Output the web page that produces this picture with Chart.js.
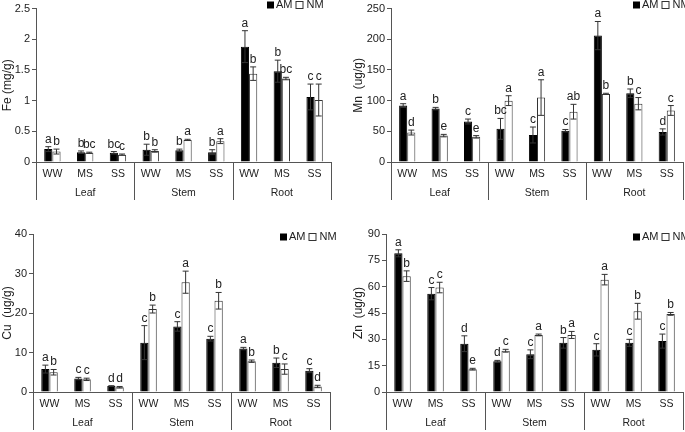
<!DOCTYPE html>
<html>
<head>
<meta charset="utf-8">
<script src="https://cdn.jsdelivr.net/npm/chart.js@4"></script>
<style>
  body { margin: 0; background: #fff; width: 685px; height: 432px; overflow: hidden; position: relative; }
  canvas { position: absolute; }
</style>
</head>
<body>
<canvas id="feChart" width="342" height="216" style="left:0px;top:0px"></canvas>
<canvas id="mnChart" width="343" height="216" style="left:342px;top:0px"></canvas>
<canvas id="cuChart" width="342" height="216" style="left:0px;top:216px"></canvas>
<canvas id="znChart" width="343" height="216" style="left:342px;top:216px"></canvas>
<script>
const stages = ['WW', 'MS', 'SS', 'WW', 'MS', 'SS', 'WW', 'MS', 'SS'];
const organs = ['Leaf', 'Stem', 'Root'];
const seriesNames = ['AM', 'NM'];

// Fe (mg/g)
const feAM = [0.21, 0.16, 0.15, 0.20, 0.19, 0.16, 1.88, 1.48, 1.06];
const feNM = [0.17, 0.15, 0.12, 0.18, 0.36, 0.34, 1.44, 1.36, 1.01];
const feAMErr = [0.04, 0.02, 0.02, 0.09, 0.02, 0.04, 0.26, 0.18, 0.21];
const feNMErr = [0.04, 0.01, 0.01, 0.02, 0.01, 0.04, 0.11, 0.02, 0.26];
const feAMSig = ['a', 'b', 'bc', 'b', 'b', 'b', 'a', 'b', 'c'];
const feNMSig = ['b', 'bc', 'c', 'b', 'a', 'a', 'b', 'bc', 'c'];

// Mn (ug/g)
const mnAM = [92, 87, 66, 54, 44, 51, 206, 112, 49];
const mnNM = [48, 43, 41, 100, 105, 82, 111, 95, 84];
const mnAMErr = [3, 2, 4, 17, 13, 2, 23, 7, 5];
const mnNMErr = [4, 2, 2, 8, 29, 12, 1, 10, 8];
const mnAMSig = ['a', 'b', 'c', 'bc', 'c', 'c', 'a', 'b', 'd'];
const mnNMSig = ['d', 'e', 'e', 'a', 'a', 'ab', 'b', 'c', 'c'];

// Cu (ug/g)
const cuAM = [5.8, 3.4, 1.5, 12.5, 16.6, 13.5, 11.0, 7.4, 5.4];
const cuNM = [5.0, 3.2, 1.2, 21.0, 27.8, 23.1, 7.8, 5.8, 1.4];
const cuAMErr = [1.0, 0.3, 0.1, 4.3, 1.2, 0.6, 0.3, 1.2, 0.5];
const cuNMErr = [0.7, 0.3, 0.2, 1.0, 2.8, 2.1, 0.3, 1.3, 0.3];
const cuAMSig = ['a', 'c', 'd', 'c', 'c', 'c', 'a', 'b', 'c'];
const cuNMSig = ['b', 'c', 'd', 'b', 'a', 'b', 'b', 'c', 'd'];

// Zn (ug/g)
const znAM = [79, 56, 27.5, 17.5, 21.5, 28, 24, 28, 29];
const znNM = [66, 59.5, 13, 23.5, 32.5, 32.5, 64, 46, 44.5];
const znAMErr = [2, 3.5, 4.5, 0.5, 2.5, 3, 3.5, 2, 4];
const znNMErr = [3, 3, 0.5, 0.8, 0.5, 2, 3, 4.5, 0.8];
const znAMSig = ['a', 'c', 'd', 'd', 'c', 'b', 'c', 'c', 'c'];
const znNMSig = ['b', 'c', 'e', 'c', 'a', 'a', 'a', 'b', 'b'];

const textColor = '#222';
const axisColor = '#555';
const fontFamily = '"Liberation Sans", Arial, sans-serif';


function panelPlugin(p) {
    return {
        id: 'panelExtras',
        afterDatasetsDraw(chart) {
            const ctx = chart.ctx;
            const yScale = chart.scales.y;
            const xScale = chart.scales.x;
            const area = chart.chartArea;
            const errs = [p.amErr, p.nmErr];
            const sigs = [p.amSig, p.nmSig];
            ctx.save();

            // error bars and letters
            chart.data.datasets.forEach((ds, d) => {
                const meta = chart.getDatasetMeta(d);
                meta.data.forEach((bar, i) => {
                    const v = ds.data[i];
                    const e = errs[d][i];
                    const yTop = yScale.getPixelForValue(v + e);
                    const yBot = yScale.getPixelForValue(v - e);
                    ctx.strokeStyle = '#333';
                    ctx.lineWidth = 1;
                    ctx.beginPath();
                    ctx.moveTo(bar.x, yTop);
                    ctx.lineTo(bar.x, yBot);
                    ctx.moveTo(bar.x - 3, yTop);
                    ctx.lineTo(bar.x + 3, yTop);
                    ctx.moveTo(bar.x - 3, yBot);
                    ctx.lineTo(bar.x + 3, yBot);
                    ctx.stroke();
                    ctx.fillStyle = textColor;
                    ctx.font = '12px ' + fontFamily;
                    ctx.textAlign = 'center';
                    ctx.textBaseline = 'alphabetic';
                    ctx.fillText(sigs[d][i], bar.x, yTop - 4);
                });
            });

            // group separators and organ names under the axis
            ctx.strokeStyle = axisColor;
            ctx.lineWidth = 1;
            const lines = [area.left, area.right];
            for (let g = 1; g < organs.length; g++) {
                lines.push((xScale.getPixelForValue(g * 3 - 1) + xScale.getPixelForValue(g * 3)) / 2);
            }
            ctx.beginPath();
            lines.forEach(x => {
                const xx = Math.round(x) + 0.5;
                ctx.moveTo(xx, area.bottom);
                ctx.lineTo(xx, area.bottom + 38);
            });
            ctx.stroke();
            ctx.fillStyle = textColor;
            ctx.font = '10.5px ' + fontFamily;
            ctx.textAlign = 'center';
            ctx.textBaseline = 'middle';
            organs.forEach((name, g) => {
                ctx.fillText(name, xScale.getPixelForValue(g * 3 + 1), area.bottom + 31);
            });

            // legend
            let x = p.legendX;
            const y = p.legendY;
            ctx.font = '11px ' + fontFamily;
            ctx.textAlign = 'left';
            ctx.fillStyle = '#000';
            ctx.fillRect(x, y - 3.5, 7, 7);
            x += 9;
            ctx.fillStyle = textColor;
            ctx.fillText(seriesNames[0], x, y);
            x += ctx.measureText(seriesNames[0]).width + 3;
            ctx.strokeStyle = '#333';
            ctx.strokeRect(x + 0.5, y - 3.5, 7, 7);
            x += 11;
            ctx.fillText(seriesNames[1], x, y);
            ctx.restore();
        }
    };
}


function makePanel(p) {
    new Chart(document.getElementById(p.id), {
        type: 'bar',
        data: {
            labels: stages,
            datasets: [{
                label: seriesNames[0],
                data: p.am,
                backgroundColor: '#000',
                borderColor: '#000',
                borderWidth: 1,
                categoryPercentage: 0.5,
                barPercentage: 1.0,
            }, {
                label: seriesNames[1],
                data: p.nm,
                backgroundColor: '#fff',
                borderColor: '#333',
                borderWidth: 1,
                categoryPercentage: 0.5,
                barPercentage: 1.0,
            }]
        },
        options: {
            responsive: false,
            animation: false,
            layout: {
                padding: { top: p.padTop, right: p.padRight, left: 0, bottom: 0 }
            },
            scales: {
                x: {
                    afterFit: s => { s.height = p.xHeight; },
                    grid: { display: false, drawTicks: false },
                    border: { display: true, color: axisColor },
                    ticks: {
                        color: textColor,
                        padding: 6,
                        font: { size: 10.5, family: fontFamily },
                        maxRotation: 0,
                        autoSkip: false,
                    }
                },
                y: {
                    min: 0,
                    max: p.max,
                    afterFit: s => { s.width = p.axisWidth; },
                    grid: {
                        drawOnChartArea: false,
                        drawTicks: true,
                        tickLength: 4,
                        color: axisColor,
                    },
                    border: { display: true, color: axisColor },
                    ticks: {
                        stepSize: p.step,
                        color: textColor,
                        padding: 2,
                        font: { size: 11, family: fontFamily },
                        callback: value => String(value),
                    },
                    title: {
                        display: true,
                        text: p.title,
                        color: textColor,
                        padding: { top: p.titlePad, bottom: 0 },
                        font: { size: 12, family: fontFamily },
                    }
                }
            },
            plugins: {
                legend: { display: false },
                tooltip: { enabled: false }
            }
        },
        plugins: [panelPlugin(p)]
    });
}


makePanel({
    id: 'feChart', title: 'Fe (mg/g)', max: 2.5, step: 0.5,
    am: feAM, nm: feNM, amErr: feAMErr, nmErr: feNMErr, amSig: feAMSig, nmSig: feNMSig,
    axisWidth: 36, padTop: 5, padRight: 11, xHeight: 54, titlePad: 0, legendX: 267, legendY: 5
});
makePanel({
    id: 'mnChart', title: 'Mn  (ug/g)', max: 250, step: 50,
    am: mnAM, nm: mnNM, amErr: mnAMErr, nmErr: mnNMErr, amSig: mnAMSig, nmSig: mnNMSig,
    axisWidth: 49, padTop: 5, padRight: 2, xHeight: 54, titlePad: 9, legendX: 291, legendY: 5
});
makePanel({
    id: 'cuChart', title: 'Cu  (ug/g)', max: 40, step: 10,
    am: cuAM, nm: cuNM, amErr: cuAMErr, nmErr: cuNMErr, amSig: cuAMSig, nmSig: cuNMSig,
    axisWidth: 33, padTop: 18, padRight: 12, xHeight: 40, titlePad: 0, legendX: 280, legendY: 21
});
makePanel({
    id: 'znChart', title: 'Zn  (ug/g)', max: 90, step: 15,
    am: znAM, nm: znNM, amErr: znAMErr, nmErr: znNMErr, amSig: znAMSig, nmSig: znNMSig,
    axisWidth: 44, padTop: 18, padRight: 2, xHeight: 40, titlePad: 9, legendX: 291, legendY: 21
});
</script>
</body>
</html>
